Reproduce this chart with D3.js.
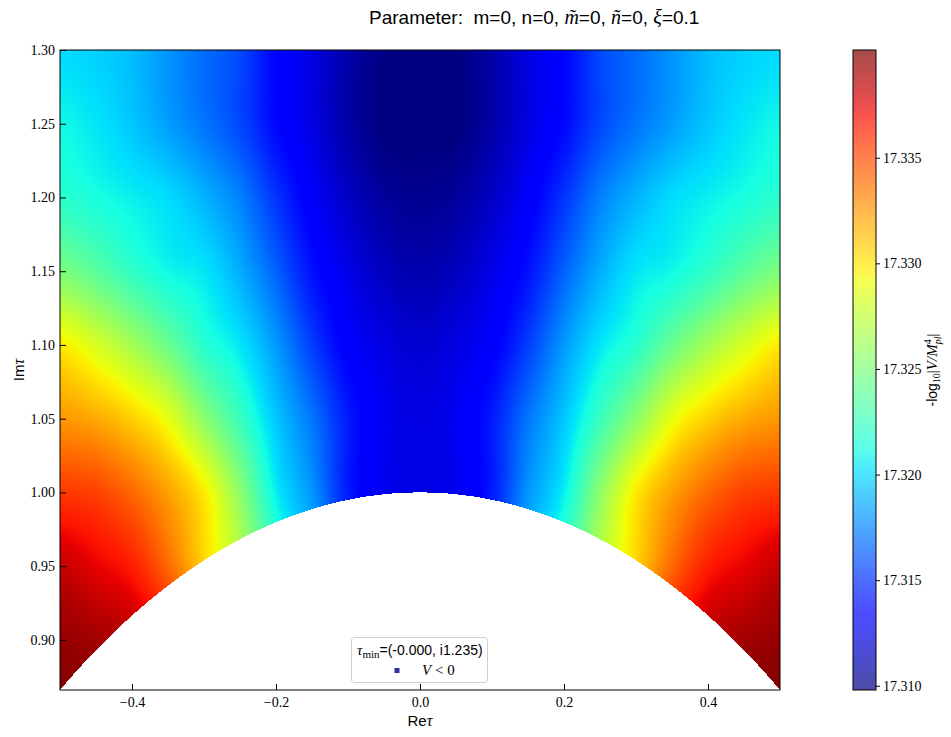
<!DOCTYPE html>
<html>
<head>
<meta charset="utf-8">
<script src="https://cdn.jsdelivr.net/npm/d3@7"></script>
<style>
  body { margin: 0; background: #fff; }
  svg text { fill: #000; }
</style>
</head>
<body>
<svg id="chart" width="951" height="737"></svg>
<script>
// Re(tau) grid columns and Im(tau) grid rows
const reVals = [-0.5, -0.45, -0.4, -0.35, -0.3, -0.25, -0.2, -0.15, -0.1, -0.05, 0,
                0.05, 0.1, 0.15, 0.2, 0.25, 0.3, 0.35, 0.4, 0.45, 0.5];
const imVals = [1.30, 1.25, 1.20, 1.15, 1.10, 1.05, 1.00, 0.95, 0.90, 0.85];

// -log10|V/Mpl^4|, one row per Im(tau)
const row130 = [17.32010, 17.31980, 17.31919, 17.31798, 17.31677, 17.31571, 17.31359, 17.31238, 17.31086, 17.30995, 17.30980,
                17.30995, 17.31086, 17.31238, 17.31359, 17.31571, 17.31677, 17.31798, 17.31919, 17.31980, 17.32010];
const row125 = [17.32101, 17.32041, 17.31950, 17.31828, 17.31707, 17.31571, 17.31374, 17.31238, 17.31086, 17.30980, 17.30980,
                17.30980, 17.31086, 17.31238, 17.31374, 17.31571, 17.31707, 17.31828, 17.31950, 17.32041, 17.32101];
const row120 = [17.32192, 17.32131, 17.32071, 17.32010, 17.31889, 17.31738, 17.31510, 17.31313, 17.31162, 17.31056, 17.31025,
                17.31056, 17.31162, 17.31313, 17.31510, 17.31738, 17.31889, 17.32010, 17.32071, 17.32131, 17.32192];
const row115 = [17.32495, 17.32374, 17.32222, 17.32101, 17.32041, 17.31874, 17.31647, 17.31404, 17.31253, 17.31147, 17.31101,
                17.31147, 17.31253, 17.31404, 17.31647, 17.31874, 17.32041, 17.32101, 17.32222, 17.32374, 17.32495];
const row110 = [17.32980, 17.32828, 17.32647, 17.32434, 17.32192, 17.32041, 17.31813, 17.31541, 17.31328, 17.31238, 17.31192,
                17.31238, 17.31328, 17.31541, 17.31813, 17.32041, 17.32192, 17.32434, 17.32647, 17.32828, 17.32980];
const row105 = [17.33253, 17.33192, 17.33071, 17.32889, 17.32556, 17.32253, 17.31950, 17.31707, 17.31435, 17.31283, 17.31238,
                17.31283, 17.31435, 17.31707, 17.31950, 17.32253, 17.32556, 17.32889, 17.33071, 17.33192, 17.33253];
const row100 = [17.33556, 17.33525, 17.33404, 17.33222, 17.32980, 17.32556, 17.32071, 17.31798, 17.31435, 17.31283, 17.31253,
                17.31283, 17.31435, 17.31798, 17.32071, 17.32556, 17.32980, 17.33222, 17.33404, 17.33525, 17.33556];
const row095 = [17.33828, 17.33737, 17.33646, 17.33404, 17.33071, 17.32737, 17.32283, 17.31919, 17.31586, 17.31374, 17.31313,
                17.31374, 17.31586, 17.31919, 17.32283, 17.32737, 17.33071, 17.33404, 17.33646, 17.33737, 17.33828];
const row090 = [17.33949, 17.33919, 17.33859, 17.33707, 17.33404, 17.33040, 17.32556, 17.32131, 17.31768, 17.31495, 17.31374,
                17.31495, 17.31768, 17.32131, 17.32556, 17.33040, 17.33404, 17.33707, 17.33859, 17.33919, 17.33949];
const row085 = [17.34010, 17.34010, 17.33949, 17.33828, 17.33586, 17.33253, 17.32798, 17.32344, 17.31950, 17.31647, 17.31525,
                17.31647, 17.31950, 17.32344, 17.32798, 17.33253, 17.33586, 17.33828, 17.33949, 17.34010, 17.34010];
const grid = [row130, row125, row120, row115, row110, row105, row100, row095, row090, row085];

const colorDomain = [17.3098, 17.3401];
const xTicks = [-0.4, -0.2, 0.0, 0.2, 0.4];
const yTicks = [0.90, 0.95, 1.00, 1.05, 1.10, 1.15, 1.20, 1.25, 1.30];
const cbTicks = [17.310, 17.315, 17.320, 17.325, 17.330, 17.335];

// layout
const plot = { left: 60, right: 780, top: 50, bottom: 690 };
const cbar = { left: 853, right: 876 };

const serif = "'Liberation Serif', 'DejaVu Serif', serif";
const sans = "'Liberation Sans', 'DejaVu Sans', sans-serif";

// matplotlib jet
const jetR = d3.scaleLinear().domain([0, 0.35, 0.66, 0.89, 1]).range([0, 0, 1, 1, 0.5]).clamp(true);
const jetG = d3.scaleLinear().domain([0, 0.125, 0.375, 0.64, 0.91, 1]).range([0, 0, 1, 1, 0, 0]).clamp(true);
const jetB = d3.scaleLinear().domain([0, 0.11, 0.34, 0.65, 1]).range([0.5, 1, 1, 0, 0]).clamp(true);
const jet = t => d3.rgb(jetR(t) * 255, jetG(t) * 255, jetB(t) * 255);

const xScale = d3.scaleLinear().domain([-0.5, 0.5]).range([plot.left, plot.right]);
const yScale = d3.scaleLinear().domain([Math.sqrt(3) / 2, 1.3]).range([plot.bottom, plot.top]);
const color = d3.scaleSequential(jet).domain(colorDomain).clamp(true);
const cbScale = d3.scaleLinear().domain(colorDomain).range([plot.bottom, plot.top]);

const colIdx = d3.scaleLinear().domain([reVals[0], reVals[reVals.length - 1]]).range([0, reVals.length - 1]).clamp(true);
const rowIdx = d3.scaleLinear().domain([imVals[0], imVals[imVals.length - 1]]).range([0, imVals.length - 1]).clamp(true);

// smooth (Catmull-Rom) sampling of the grid for the raster
function cr(p0, p1, p2, p3, t) {
  return 0.5 * (2 * p1 + (p2 - p0) * t + (2 * p0 - 5 * p1 + 4 * p2 - p3) * t * t + (3 * p1 - p0 - 3 * p2 + p3) * t * t * t);
}
const clampI = (i, n) => Math.max(0, Math.min(n - 1, i));
function valueAt(re, im) {
  const fx = colIdx(re), fy = rowIdx(im);
  const nx = reVals.length, ny = imVals.length;
  const i1 = Math.min(Math.floor(fx), nx - 2), j1 = Math.min(Math.floor(fy), ny - 2);
  const tx = fx - i1, ty = fy - j1;
  const rows = [-1, 0, 1, 2].map(dj => {
    const r = grid[clampI(j1 + dj, ny)];
    return cr(r[clampI(i1 - 1, nx)], r[i1], r[i1 + 1], r[clampI(i1 + 2, nx)], tx);
  });
  return cr(rows[0], rows[1], rows[2], rows[3], ty);
}

const svg = d3.select("#chart");

// heatmap raster
const W = plot.right - plot.left, H = plot.bottom - plot.top;
const canvas = document.createElement("canvas");
canvas.width = W; canvas.height = H;
const ctx = canvas.getContext("2d");
const img = ctx.createImageData(W, H);
for (let py = 0; py < H; py++) {
  const im = yScale.invert(plot.top + py + 0.5);
  for (let px = 0; px < W; px++) {
    const re = xScale.invert(plot.left + px + 0.5);
    const k = (py * W + px) * 4;
    if (re * re + im * im < 1) { img.data[k + 3] = 0; continue; }
    const c = color(valueAt(re, im));
    img.data[k] = c.r; img.data[k + 1] = c.g; img.data[k + 2] = c.b; img.data[k + 3] = 255;
  }
}
ctx.putImageData(img, 0, 0);
svg.append("image")
  .attr("x", plot.left).attr("y", plot.top)
  .attr("width", W).attr("height", H)
  .attr("href", canvas.toDataURL());

// frame
svg.append("rect")
  .attr("x", plot.left).attr("y", plot.top)
  .attr("width", W).attr("height", H)
  .attr("fill", "none").attr("stroke", "#000").attr("stroke-width", 1);

// axes (ticks pointing in)
const fmtMinus = s => s.replace("-", "\u2212");
const xAxis = svg.append("g")
  .attr("transform", `translate(0,${plot.bottom})`)
  .call(d3.axisBottom(xScale).tickValues(xTicks).tickSizeInner(-6).tickSizeOuter(0).tickPadding(7)
    .tickFormat(d => fmtMinus(d3.format(".1f")(d))));
const yAxis = svg.append("g")
  .attr("transform", `translate(${plot.left},0)`)
  .call(d3.axisLeft(yScale).tickValues(yTicks).tickSizeInner(-6).tickSizeOuter(0).tickPadding(6)
    .tickFormat(d3.format(".2f")));
[xAxis, yAxis].forEach(g => {
  g.select(".domain").remove();
  g.selectAll("text").attr("font-family", serif).attr("font-size", 14);
  g.selectAll(".tick line").attr("stroke", "#000");
});
yAxis.selectAll("text").attr("x", -5);

// axis labels
svg.append("text")
  .attr("x", xScale(0)).attr("y", 726).attr("text-anchor", "middle")
  .attr("font-family", sans).attr("font-size", 15)
  .call(t => { t.append("tspan").text("Re"); t.append("tspan").attr("font-family", serif).attr("font-style", "italic").attr("font-size", 16).text("τ"); });
svg.append("text")
  .attr("transform", `translate(24,${(plot.top + plot.bottom) / 2}) rotate(-90)`)
  .attr("text-anchor", "middle")
  .attr("font-family", sans).attr("font-size", 15)
  .call(t => { t.append("tspan").text("Im"); t.append("tspan").attr("font-family", serif).attr("font-style", "italic").attr("font-size", 16).text("τ"); });

// title
const title = svg.append("text")
  .attr("x", 369).attr("y", 24)
  .attr("font-family", sans).attr("font-size", 19)
  .style("white-space", "pre");
const titleParts = [
  ["Parameter:  m=0, n=0, ", false],
  ["m\u0303", true], ["=0, ", false],
  ["n\u0303", true], ["=0, ", false],
  ["ξ", true], ["=0.1", false]
];
titleParts.forEach(([s, it]) => {
  const ts = title.append("tspan").text(s);
  if (it) ts.attr("font-family", serif).attr("font-style", "italic").attr("font-size", 20);
});

// legend
const legend = svg.append("g");
legend.append("rect")
  .attr("x", 351.5).attr("y", 637.5).attr("width", 136).attr("height", 45).attr("rx", 3)
  .attr("fill", "#fff").attr("fill-opacity", 0.8)
  .attr("stroke", "#d0d0d0").attr("stroke-width", 1);
const l1 = legend.append("text").attr("x", 357).attr("y", 655)
  .attr("font-family", sans).attr("font-size", 14);
l1.append("tspan").attr("font-family", serif).attr("font-style", "italic").attr("font-size", 15).text("τ");
l1.append("tspan").attr("font-family", serif).attr("font-size", 11).attr("dy", 3).text("min");
l1.append("tspan").attr("dy", -3).text("=(-0.000, i1.235)");
legend.append("rect")
  .attr("x", 394.5).attr("y", 668).attr("width", 5).attr("height", 5)
  .attr("fill", "#2e2e9e");
legend.append("text").attr("x", 422).attr("y", 675)
  .attr("font-family", serif).attr("font-size", 15)
  .call(t => {
    t.append("tspan").attr("font-style", "italic").text("V");
    t.append("tspan").text(" < 0");
  });

// colorbar
const defs = svg.append("defs");
const grad = defs.append("linearGradient").attr("id", "cbgrad")
  .attr("x1", 0).attr("y1", 1).attr("x2", 0).attr("y2", 0);
d3.range(0, 1.0001, 0.02).forEach(t => {
  grad.append("stop").attr("offset", t).attr("stop-color", jet(t).formatHex()).attr("stop-opacity", 0.7);
});
svg.append("rect")
  .attr("x", cbar.left).attr("y", plot.top)
  .attr("width", cbar.right - cbar.left).attr("height", H)
  .attr("fill", "url(#cbgrad)").attr("stroke", "#000").attr("stroke-width", 1);
const cbAxis = svg.append("g")
  .attr("transform", `translate(${cbar.right},0)`)
  .call(d3.axisRight(cbScale).tickValues(cbTicks).tickSizeInner(4).tickSizeOuter(0).tickPadding(3)
    .tickFormat(d3.format(".3f")));
cbAxis.select(".domain").remove();
cbAxis.selectAll("text").attr("font-family", serif).attr("font-size", 14);

// colorbar label
const cbl = svg.append("text")
  .attr("transform", `translate(937,${(plot.top + plot.bottom) / 2}) rotate(-90)`)
  .attr("text-anchor", "middle")
  .attr("font-family", sans).attr("font-size", 14);
cbl.append("tspan").text("-log");
cbl.append("tspan").attr("font-family", serif).attr("font-size", 10).attr("dy", 3).text("10");
cbl.append("tspan").attr("font-family", serif).attr("font-size", 15).attr("dy", -3).text("|");
cbl.append("tspan").attr("font-family", serif).attr("font-style", "italic").attr("font-size", 15).text("V/M");
cbl.append("tspan").attr("font-family", serif).attr("font-size", 10).attr("dy", -6).text("4");
cbl.append("tspan").attr("font-family", serif).attr("font-style", "italic").attr("font-size", 10).attr("dx", -5).attr("dy", 10).text("pl");
cbl.append("tspan").attr("font-family", serif).attr("font-size", 15).attr("dy", -4).text("|");
</script>
</body>
</html>
